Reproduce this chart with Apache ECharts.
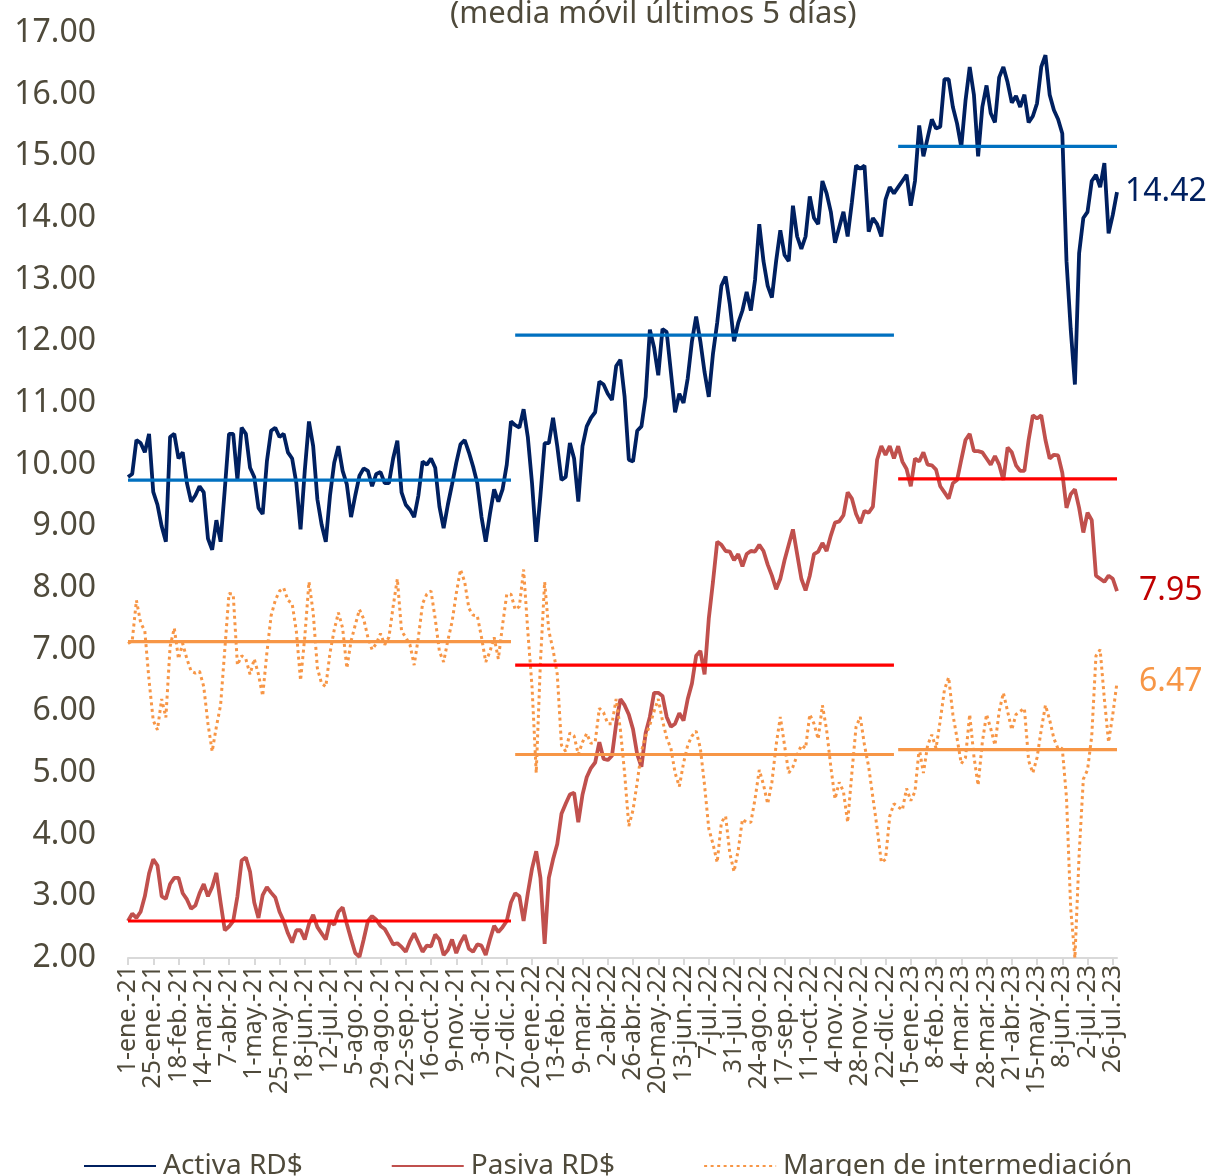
<!DOCTYPE html>
<html>
<head>
<meta charset="utf-8">
<script src="https://cdn.jsdelivr.net/npm/echarts@6/dist/echarts.min.js"></script>
<style>
html,body{margin:0;padding:0;background:#fff;}
#chart{width:1212px;height:1176px;}
</style>
</head>
<body>
<div id="chart"></div>
<script>
// Category axis: one point every 4 days from 1-ene.-21; a label every 24 days
const startDate = Date.UTC(2021, 0, 1);
const stepDays = 4;
const monthNames = ['ene.', 'feb.', 'mar.', 'abr.', 'may.', 'jun.', 'jul.', 'ago.', 'sep.', 'oct.', 'nov.', 'dic.'];

// Series values (media móvil 5 días)
const activa = [
9.8,9.85,10.4,10.35,10.2,10.5,9.56,9.35,9.0,8.75,
10.45,10.5,10.1,10.2,9.7,9.4,9.5,9.65,9.55,8.8,
8.62,9.1,8.75,9.6,10.5,10.5,9.75,10.6,10.5,9.95,
9.8,9.3,9.2,10.05,10.55,10.6,10.45,10.5,10.2,10.1,
9.7,8.95,9.9,10.7,10.3,9.44,9.03,8.75,9.5,10.03,
10.3,9.9,9.68,9.15,9.5,9.82,9.94,9.9,9.65,9.85,
9.88,9.7,9.7,10.1,10.39,9.55,9.35,9.27,9.15,9.5,
10.05,10.0,10.1,9.95,9.32,8.97,9.35,9.68,10.03,10.33,
10.4,10.2,9.97,9.7,9.15,8.75,9.2,9.6,9.4,9.6,
10.0,10.7,10.64,10.6,10.9,10.45,9.7,8.75,9.5,10.35,
10.35,10.76,10.3,9.75,9.8,10.35,10.1,9.4,10.3,10.62,
10.76,10.85,11.35,11.3,11.15,11.05,11.6,11.7,11.1,10.08,
10.05,10.55,10.62,11.1,12.19,11.9,11.45,12.2,12.15,11.5,
10.85,11.15,11.0,11.4,12.0,12.4,12.0,11.5,11.1,11.8,
12.3,12.9,13.05,12.6,12.0,12.3,12.5,12.8,12.5,13.0,
13.9,13.3,12.9,12.71,13.3,13.8,13.4,13.3,14.2,13.7,
13.5,13.7,14.35,14.0,13.9,14.6,14.4,14.1,13.6,13.85,
14.1,13.7,14.25,14.85,14.8,14.85,13.78,14.0,13.9,13.7,
14.3,14.5,14.4,14.5,14.6,14.7,14.2,14.6,15.5,15.0,
15.3,15.6,15.45,15.48,16.25,16.25,15.8,15.53,15.15,15.9,
16.45,16.0,15.0,15.8,16.15,15.7,15.55,16.28,16.45,16.2,
15.87,15.98,15.8,16.0,15.55,15.65,15.86,16.45,16.64,16.0,
15.75,15.6,15.37,13.3,12.2,11.3,13.43,14.0,14.1,14.6,
14.7,14.5,14.89,13.75,14.05,14.42
];

const pasiva = [
2.6,2.72,2.65,2.75,3.0,3.37,3.6,3.5,3.0,2.96,
3.2,3.3,3.3,3.05,2.95,2.8,2.85,3.05,3.2,3.0,
3.15,3.38,2.9,2.45,2.51,2.6,3.0,3.58,3.63,3.4,
2.9,2.65,3.02,3.15,3.06,2.98,2.75,2.6,2.4,2.25,
2.45,2.45,2.3,2.55,2.7,2.5,2.4,2.3,2.6,2.54,
2.75,2.82,2.55,2.31,2.08,2.02,2.3,2.6,2.68,2.62,
2.52,2.47,2.35,2.22,2.24,2.18,2.1,2.27,2.4,2.25,
2.1,2.2,2.19,2.38,2.3,2.05,2.13,2.3,2.08,2.25,
2.37,2.15,2.1,2.22,2.2,2.05,2.3,2.52,2.42,2.5,
2.6,2.9,3.05,3.0,2.6,3.05,3.45,3.73,3.3,2.23,
3.3,3.6,3.85,4.34,4.5,4.65,4.68,4.2,4.65,4.93,
5.08,5.17,5.5,5.23,5.21,5.28,5.8,6.2,6.1,5.95,
5.71,5.3,5.1,5.65,5.91,6.3,6.3,6.25,5.91,5.75,
5.8,5.97,5.85,6.2,6.45,6.9,6.98,6.6,7.5,8.1,
8.75,8.7,8.6,8.59,8.45,8.55,8.35,8.55,8.6,8.59,
8.7,8.6,8.38,8.2,7.98,8.15,8.45,8.7,8.95,8.55,
8.15,7.96,8.2,8.55,8.59,8.73,8.6,8.85,9.06,9.08,
9.18,9.55,9.45,9.2,9.05,9.25,9.22,9.32,10.08,10.3,
10.16,10.3,10.1,10.3,10.05,9.93,9.65,10.1,10.05,10.2,
10.0,9.99,9.92,9.65,9.55,9.45,9.7,9.75,10.08,10.4,
10.5,10.22,10.22,10.2,10.1,10.0,10.14,10.0,9.75,10.28,
10.2,9.99,9.9,9.9,10.4,10.8,10.75,10.8,10.4,10.1,
10.16,10.15,9.87,9.3,9.52,9.6,9.3,8.9,9.22,9.1,
8.2,8.15,8.1,8.2,8.15,7.95
];

const margen = [
7.1,7.14,7.8,7.44,7.3,6.5,5.85,5.7,6.2,5.9,
7.05,7.35,6.85,7.1,6.85,6.65,6.62,6.65,6.4,5.8,
5.35,5.75,6.1,7.0,7.91,7.9,6.75,6.9,6.85,6.6,
6.85,6.6,6.25,6.95,7.55,7.8,7.95,8.0,7.8,7.75,
7.3,6.5,7.2,8.1,7.6,6.7,6.45,6.4,6.95,7.32,
7.6,7.35,6.7,7.14,7.4,7.65,7.5,7.2,7.0,7.1,
7.26,7.08,7.2,7.7,8.15,7.3,7.2,7.08,6.75,7.2,
7.75,7.9,7.95,7.5,6.97,6.8,7.15,7.45,7.91,8.3,
8.1,7.67,7.56,7.55,7.2,6.8,6.97,7.2,6.85,7.4,
7.9,7.9,7.65,7.7,8.3,7.3,6.4,5.0,6.8,8.1,
7.3,7.0,6.6,5.45,5.35,5.65,5.6,5.3,5.5,5.64,
5.48,5.5,6.05,5.98,5.8,5.8,6.2,5.7,5.0,4.14,
4.4,4.85,5.35,5.6,5.78,6.0,6.2,5.85,5.57,5.4,
5.0,4.78,5.16,5.45,5.6,5.68,5.4,4.8,4.1,3.85,
3.55,4.2,4.3,3.7,3.4,3.75,4.25,4.2,4.2,4.58,
5.05,4.81,4.5,4.85,5.45,5.91,5.45,5.0,5.1,5.29,
5.45,5.4,5.95,5.8,5.55,6.1,5.7,5.1,4.58,4.85,
4.7,4.2,5.0,5.75,5.91,5.45,5.1,4.6,4.11,3.55,
3.6,4.3,4.5,4.45,4.4,4.75,4.55,4.7,5.4,5.0,
5.45,5.62,5.4,5.85,6.35,6.55,5.95,5.56,5.15,5.25,
5.95,5.27,4.8,5.5,5.95,5.72,5.45,6.0,6.3,6.0,
5.7,5.95,6.0,6.05,5.2,5.0,5.25,5.7,6.1,5.86,
5.56,5.39,5.4,4.6,2.8,2.0,3.68,4.9,5.05,5.6,
6.9,7.0,6.2,5.5,5.95,6.47
];

// Annual averages (2021, 2022, 2023)
const avgActiva = [9.75, 12.1, 15.16];
const avgPasiva = [2.6, 6.75, 9.77];
const avgMargen = [7.13, 5.3, 5.38];
// index ranges of each year on the category axis
const yearStart = [0, 92, 183];
const yearEnd = [91, 182, 235];

const N = activa.length;
const categories = [];
for (let i = 0; i < N; i++) {
  const d = new Date(startDate + i * stepDays * 86400000);
  categories.push(d.getUTCDate() + '-' + monthNames[d.getUTCMonth()] + '-' + String(d.getUTCFullYear()).slice(2));
}

function yearSegment(avgs, k) {
  const arr = new Array(N).fill(null);
  for (let i = yearStart[k]; i <= yearEnd[k]; i++) arr[i] = avgs[k];
  return arr;
}

const textColor = '#4f4a3b';
const fontFamily = '"Noto Sans", sans-serif';

const avgSeries = [];
[[avgActiva, '#0070c0'], [avgPasiva, '#ff0000'], [avgMargen, '#f79646']].forEach(([avgs, color]) => {
  for (let k = 0; k < 3; k++) {
    avgSeries.push({
      type: 'line', name: 'avg', data: yearSegment(avgs, k), symbol: 'none', z: 5,
      lineStyle: { color: color, width: 3.2 }, silent: true, animation: false
    });
  }
});

const chart = echarts.init(document.getElementById('chart'), null, { renderer: 'canvas' });
chart.setOption({
  animation: false,
  backgroundColor: '#ffffff',
  textStyle: { fontFamily: fontFamily },
  title: {
    text: '(media móvil últimos 5 días)',
    left: 445, top: -6,
    textStyle: { fontFamily: fontFamily, fontSize: 31, fontWeight: 'normal', color: textColor }
  },
  grid: { left: 128, right: 95, top: 33, bottom: 218, containLabel: false },
  legend: {
    data: ['Activa RD$', 'Pasiva RD$', 'Margen de intermediación'],
    left: 78, top: 1147,
    itemWidth: 72, itemHeight: 14, itemGap: 88,
    itemStyle: { opacity: 0 },
    textStyle: { fontFamily: fontFamily, fontSize: 28, color: textColor, padding: [0, 0, 0, 2] }
  },
  xAxis: {
    type: 'category', data: categories, boundaryGap: false,
    axisLine: { show: true, lineStyle: { color: '#d9d9d9', width: 2 } },
    axisTick: { show: true, interval: 5, length: 7, lineStyle: { color: '#d9d9d9', width: 2 } },
    axisLabel: { interval: 5, rotate: 90, fontSize: 25, color: textColor, margin: 7, fontFamily: fontFamily },
    splitLine: { show: false }
  },
  yAxis: {
    type: 'value', min: 2, max: 17, interval: 1,
    axisLine: { show: false }, axisTick: { show: false },
    splitLine: { show: false },
    axisLabel: { formatter: v => v.toFixed(2), fontSize: 32, color: textColor, margin: 32, fontFamily: fontFamily }
  },
  series: [
    {
      type: 'line', name: 'Pasiva RD$', data: pasiva, symbol: 'none', z: 2,
      lineStyle: { color: '#c0504d', width: 3.8 }, itemStyle: { color: '#c0504d' },
      endLabel: { show: true, formatter: p => Number(p.value).toFixed(2), color: '#c00000', fontSize: 32, distance: 22, fontFamily: fontFamily }
    },
    {
      type: 'line', name: 'Activa RD$', data: activa, symbol: 'none', z: 3,
      lineStyle: { color: '#002060', width: 3.8 }, itemStyle: { color: '#002060' },
      endLabel: { show: true, formatter: p => Number(p.value).toFixed(2), color: '#002060', fontSize: 32, distance: 8, fontFamily: fontFamily }
    },
    {
      type: 'line', name: 'Margen de intermediación', data: margen, symbol: 'none', z: 4,
      lineStyle: { color: '#f79646', width: 3, type: [3, 3.5] }, itemStyle: { color: '#f79646' },
      endLabel: { show: true, formatter: p => Number(p.value).toFixed(2), color: '#f79646', fontSize: 32, distance: 22, fontFamily: fontFamily }
    }
  ].concat(avgSeries)
});
</script>
</body>
</html>
